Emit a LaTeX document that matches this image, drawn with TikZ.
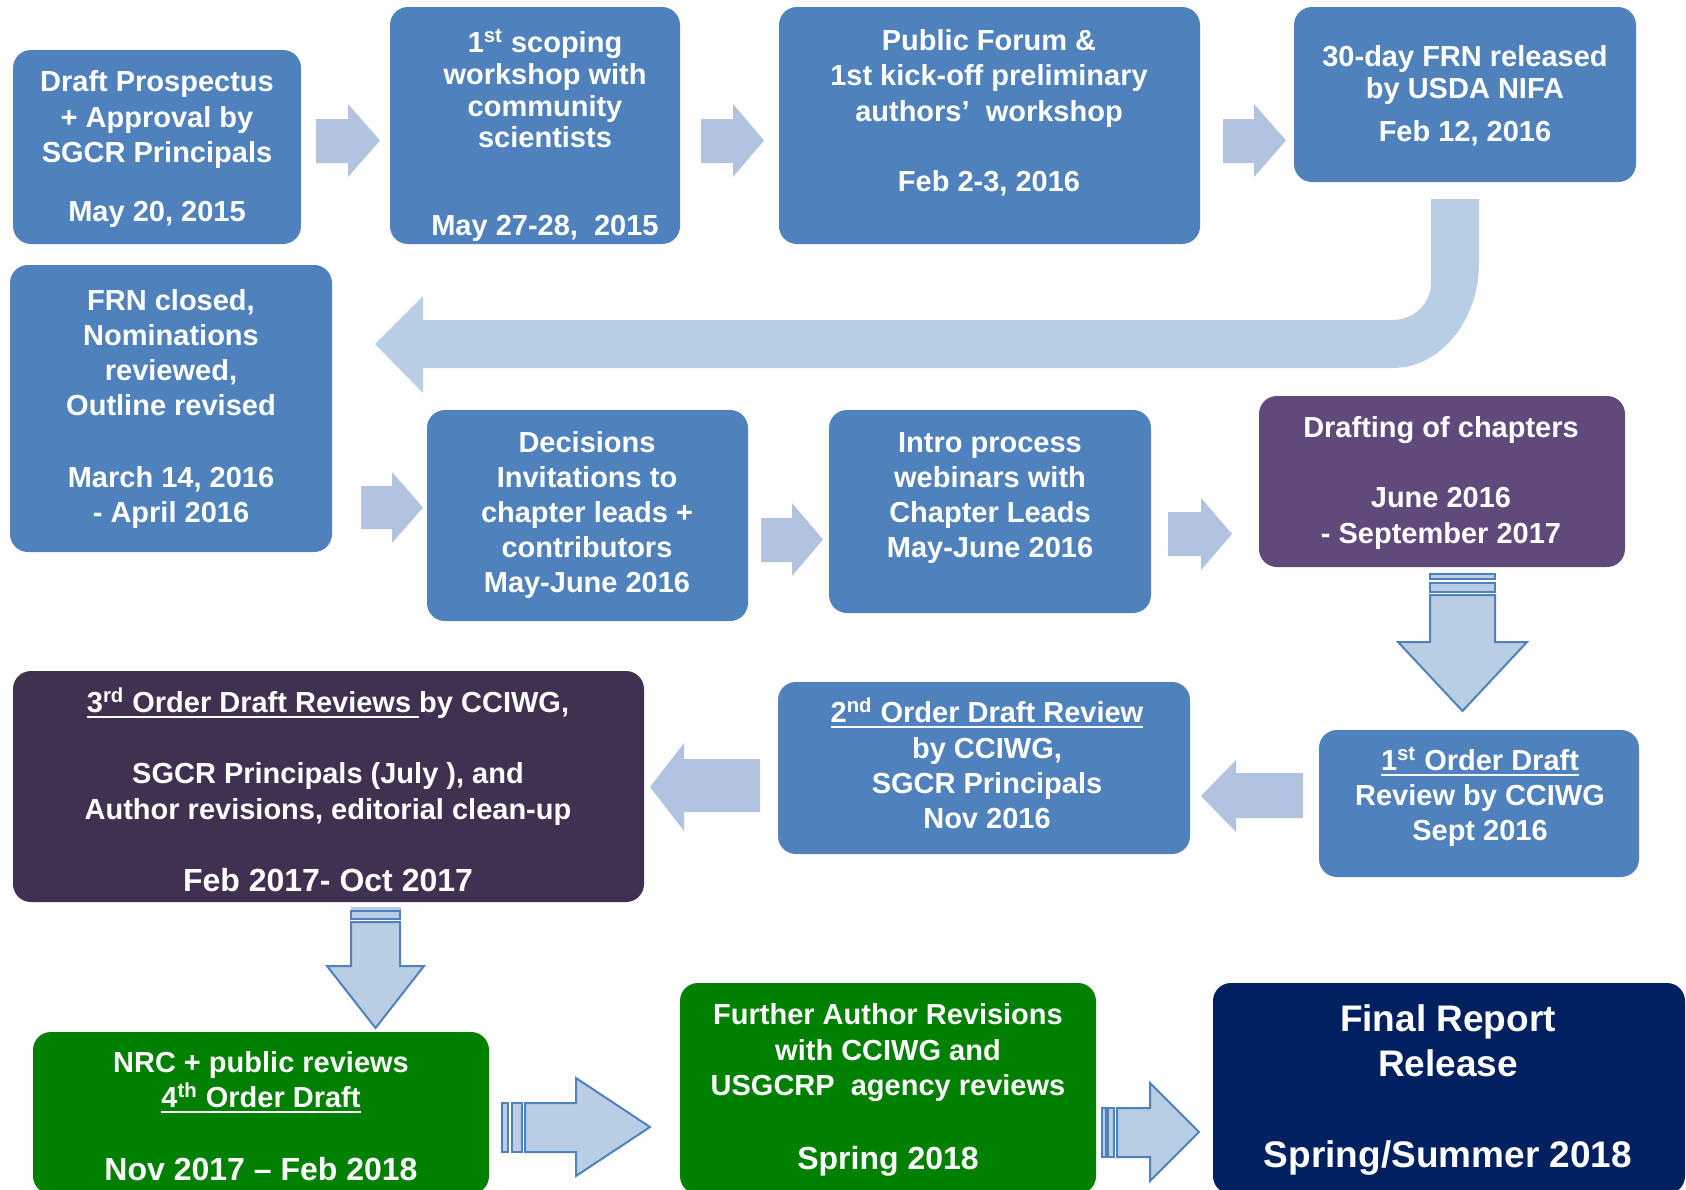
\documentclass[tikz,border=0pt]{standalone}
\usepackage{fontspec}
\setmainfont{Liberation Sans}
\usetikzlibrary{fit}
\definecolor{boxblue}{HTML}{4F81BD}
\definecolor{boxpurple}{HTML}{604A7B}
\definecolor{boxdark}{HTML}{403151}
\definecolor{boxgreen}{HTML}{008000}
\definecolor{boxnavy}{HTML}{002060}
\definecolor{arrlight}{HTML}{B9CDE5}
\definecolor{arrgray}{HTML}{B2C3DF}
\definecolor{arredge}{HTML}{4F81BD}
\newcommand\myul[1]{\setbox0=\hbox{#1}\rlap{\rule[-2.8pt]{\wd0}{1pt}}\box0}
\newcommand\fl{\rule{0pt}{13pt}}
\newcommand\flbig{\rule{0pt}{16pt}}
\newcommand\bigline[1]{{\fontsize{16}{17.75}\selectfont #1}}
\tikzset{
  box/.style={rounded corners=9pt, inner sep=0pt, draw=none},
  txt/.style={text=white, font=\bfseries\fontsize{14.5}{17.5}\selectfont, align=center, inner sep=0pt, anchor=north},
  flat/.style={fill=arrgray, draw=none},
  curv/.style={fill=arrlight, draw=none},
  striped/.style={fill=arrlight, draw=arredge, line width=1pt, line join=miter},
}
\begin{document}
\begin{tikzpicture}[x=0.5pt, y=-0.5pt]
\fill[white] (0,0) rectangle (1686,1189);
\useasboundingbox (0,0) rectangle (1686,1189);

% boxes
\node[box, fill=boxblue, fit={(13,50) (301,244)}] (b1) {};
\node[box, fill=boxblue, fit={(390,7) (680,244)}] (b2) {};
\node[box, fill=boxblue, fit={(779,7) (1200,244)}] (b3) {};
\node[box, fill=boxblue, fit={(1294,7) (1636,182)}] (b4) {};
\node[box, fill=boxblue, fit={(10,265) (332,552)}] (b5) {};
\node[box, fill=boxblue, fit={(427,410) (748,621)}] (b6) {};
\node[box, fill=boxblue, fit={(829,410) (1151,613)}] (b7) {};
\node[box, fill=boxpurple, fit={(1259,396) (1625,567)}] (b8) {};
\node[box, fill=boxdark, fit={(13,671) (644,902)}] (b9) {};
\node[box, fill=boxblue, fit={(778,682) (1190,854)}] (b10) {};
\node[box, fill=boxblue, fit={(1319,730) (1639,877)}] (b11) {};
\node[box, fill=boxgreen, fit={(33,1032) (489,1194)}] (b12) {};
\node[box, fill=boxgreen, fit={(680,983) (1096,1194)}] (b13) {};
\node[box, fill=boxnavy, fit={(1213,983) (1685,1194)}] (b14) {};

% texts
\node[txt, font=\bfseries\fontsize{14.5}{17.75}\selectfont] (t1) at (157,65.4)
  {\fl Draft Prospectus\\+ Approval by\\SGCR Principals\\[11.75pt]May 20, 2015};
\node[txt, font=\bfseries\fontsize{14.5}{15.85}\selectfont] (t2) at (545,26.4)
  {\fl 1\textsuperscript{st} scoping\\workshop with\\community\\scientists\\[28.15pt]May 27-28,~~2015};
\node[txt, font=\bfseries\fontsize{14.5}{17.75}\selectfont] (t3) at (989,23.9)
  {\fl Public Forum \&\\1st kick-off preliminary\\authors’~ workshop\\[17.5pt]Feb 2-3, 2016};
\node[txt, font=\bfseries\fontsize{14.5}{16}\selectfont] (t4) at (1465,40.4)
  {\fl 30-day FRN released\\by USDA NIFA\\[5.5pt]Feb 12, 2016};
\node[txt] (t5) at (171,284.4)
  {\fl FRN closed,\\Nominations\\reviewed,\\Outline revised\\[18.5pt]March 14, 2016\\- April 2016};
\node[txt] (t6) at (587,426.4)
  {\fl Decisions\\Invitations to\\chapter leads +\\contributors\\May-June 2016};
\node[txt] (t7) at (990,426.4)
  {\fl Intro process\\webinars with\\Chapter Leads\\May-June 2016};
\node[txt, font=\bfseries\fontsize{14.5}{17.75}\selectfont] (t8) at (1441,411.4)
  {\fl Drafting of chapters\\[17.25pt]June 2016\\- September 2017};
\node[txt, font=\bfseries\fontsize{14.5}{17.75}\selectfont] (t9) at (328,686.4)
  {\fl \myul{3\textsuperscript{rd} Order Draft Reviews }by CCIWG,\\[17.75pt]SGCR Principals (July ), and\\Author revisions, editorial clean-up\\[18.25pt]\bigline{Feb 2017- Oct 2017}};
\node[txt, font=\bfseries\fontsize{14.5}{17.6}\selectfont] (t10) at (987,696.4)
  {\fl \myul{2\textsuperscript{nd} Order Draft Review}\\by CCIWG,\\SGCR Principals\\Nov 2016};
\node[txt] (t11) at (1480,744.4)
  {\fl \myul{1\textsuperscript{st} Order Draft}\\Review by CCIWG\\Sept 2016};
\node[txt] (t12) at (261,1046.4)
  {\fl NRC + public reviews\\\myul{4\textsuperscript{th} Order Draft}\\[19pt]\bigline{Nov 2017 – Feb 2018}};
\node[txt, font=\bfseries\fontsize{14.5}{17.75}\selectfont] (t13) at (888,998.4)
  {\fl Further Author Revisions\\with CCIWG and\\USGCRP~ agency reviews\\[19.25pt]\bigline{Spring 2018}};
\node[txt, font=\bfseries\fontsize{18.5}{22.5}\selectfont] (t14) at (1448,999.25)
  {\flbig Final Report\\Release\\[23pt]Spring/Summer 2018};

% flat block arrows
\path[flat] (316,119)--(348,119)--(348,104)--(380,140.5)--(348,177)--(348,163)--(316,163)--cycle;
\path[flat] (701,119)--(733,119)--(733,104)--(764,140.5)--(733,177)--(733,163)--(701,163)--cycle;
\path[flat] (1223,119)--(1254,119)--(1254,104)--(1286,140.5)--(1254,177)--(1254,163)--(1223,163)--cycle;
\path[flat] (361,486)--(392,486)--(392,472)--(423,507.5)--(392,543)--(392,529)--(361,529)--cycle;
\path[flat] (761,518)--(792,518)--(792,503)--(823,539.5)--(792,576)--(792,562)--(761,562)--cycle;
\path[flat] (1168,512)--(1201,512)--(1201,498)--(1232,534)--(1201,570)--(1201,556)--(1168,556)--cycle;
\path[flat] (1303,773)--(1236,773)--(1236,760)--(1201,796)--(1236,832)--(1236,818)--(1303,818)--cycle;
\path[flat] (760,759)--(684,759)--(684,743)--(650,787)--(684,831)--(684,812)--(760,812)--cycle;

% curved arrow
\path[curv] (1431,199)--(1431,283) .. controls (1431,303) and (1414,320) .. (1393,320)
  --(423,320)--(423,296)--(375,344)--(423,393)--(423,368)--(1393,368)
  .. controls (1440,368) and (1479,321) .. (1479,263)--(1479,199)--cycle;

% striped arrows
\path[striped] (1430,574) rectangle (1495,579);
\path[striped] (1430,583) rectangle (1495,592);
\path[striped] (1430,595)--(1495,595)--(1495,642)--(1527,642)--(1462.5,711)--(1398,642)--(1430,642)--cycle;

\path[striped, draw=arredge!40, line width=0.5pt] (351,907) rectangle (400,909);
\path[striped] (351,911) rectangle (400,919);
\path[striped] (351,922)--(400,922)--(400,966)--(424,966)--(375.5,1028)--(327,966)--(351,966)--cycle;

\path[striped] (502,1103) rectangle (508,1152);
\path[striped] (512,1103) rectangle (522,1152);
\path[striped] (525,1103)--(576,1103)--(576,1078)--(650,1127)--(576,1176)--(576,1152)--(525,1152)--cycle;

\path[striped] (1102,1108) rectangle (1106,1157);
\path[striped] (1108,1108) rectangle (1114,1157);
\path[striped] (1117,1108)--(1150,1108)--(1150,1083)--(1199,1132)--(1150,1181)--(1150,1157)--(1117,1157)--cycle;
\end{tikzpicture}
\end{document}
